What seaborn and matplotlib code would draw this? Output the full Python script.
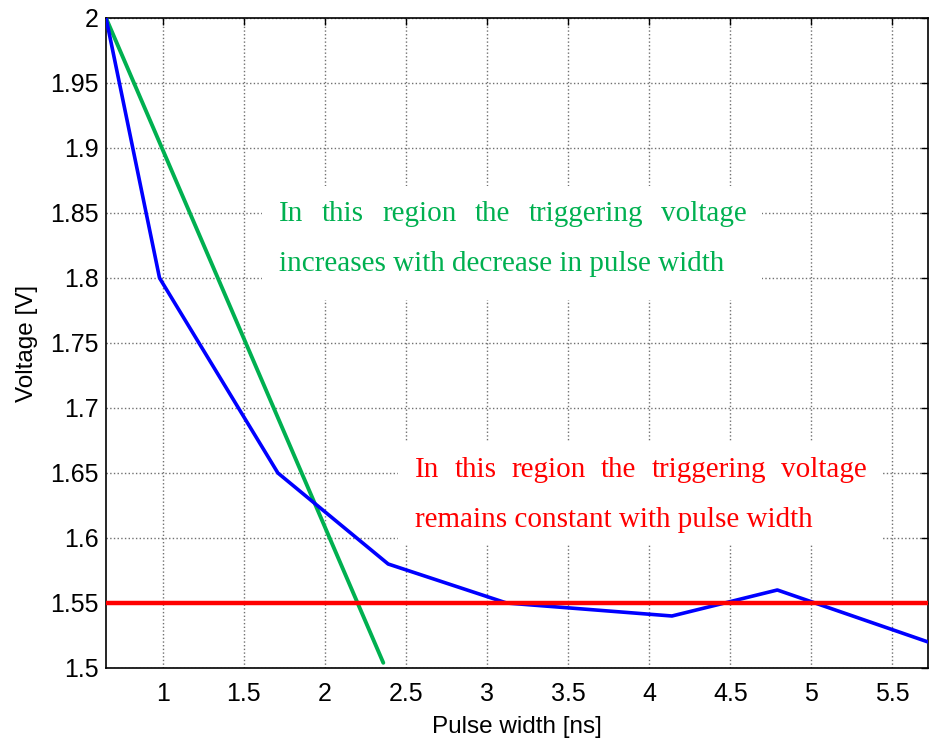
import matplotlib
matplotlib.use("Agg")
import matplotlib.pyplot as plt
import seaborn as sns
import pandas as pd
from matplotlib.patches import Rectangle

sns.set_style("white")
plt.rcParams['font.family'] = ['Liberation Sans', 'DejaVu Sans']

# data
blue_x = [0.65, 0.98, 1.71, 2.39, 3.12, 4.14, 4.79, 5.72]
blue_y = [2.00, 1.80, 1.65, 1.58, 1.55, 1.54, 1.56, 1.52]
green_x = [0.65, 2.36]
green_y = [2.00, 1.504]
red_x = [0.65, 5.72]
red_y = [1.55, 1.55]
xticks = [1, 1.5, 2, 2.5, 3, 3.5, 4, 4.5, 5, 5.5]
yticks = [1.5, 1.55, 1.6, 1.65, 1.7, 1.75, 1.8, 1.85, 1.9, 1.95, 2.0]
ytick_labels = ["1.5", "1.55", "1.6", "1.65", "1.7", "1.75", "1.8", "1.85", "1.9", "1.95", "2"]
xtick_labels = ["1", "1.5", "2", "2.5", "3", "3.5", "4", "4.5", "5", "5.5"]
green_lines = ["In this region the triggering voltage", "increases with decrease in pulse width"]
red_lines = ["In this region the triggering voltage", "remains constant with pulse width"]

GREEN = "#00B050"
fig = plt.figure(figsize=(9.3, 7.4), dpi=100)
ax = fig.add_axes([0.114, 0.0973, 0.884, 0.8784])

sns.lineplot(x=green_x, y=green_y, ax=ax, color=GREEN, linewidth=2.8, zorder=4)
sns.lineplot(x=blue_x, y=blue_y, ax=ax, color="#0000FF", linewidth=2.6, zorder=5)
sns.lineplot(x=red_x, y=red_y, ax=ax, color="#FF0000", linewidth=3.2, zorder=6)

ax.set_xlim(0.65, 5.72)
ax.set_ylim(1.5, 2.0)
ax.set_xticks(xticks)
ax.set_xticklabels(xtick_labels)
ax.set_yticks(yticks)
ax.set_yticklabels(ytick_labels)
ax.tick_params(direction='in', length=5, width=1, top=True, right=True,
               labelsize=18, colors='black', labelcolor='black')
ax.tick_params(axis='y', pad=5)
ax.tick_params(axis='x', pad=10)
ax.grid(True, linestyle=':', color='#707070', linewidth=1.0)
for s in ax.spines.values():
    s.set_color('black')
    s.set_linewidth(1.2)
ax.set_xlabel("Pulse width [ns]", fontsize=17.5, labelpad=7, color='black')
ax.set_ylabel("Voltage [V]", fontsize=17.5, labelpad=9, color='black')

# white backgrounds behind annotations (pixel coordinates -> figure)
def px_rect(x0, y0, x1, y1):
    W, H = 930, 740
    r = Rectangle((x0 / W, 1 - y1 / H), (x1 - x0) / W, (y1 - y0) / H,
                  transform=fig.transFigure, facecolor='white', edgecolor='none', zorder=2)
    ax.add_artist(r)

px_rect(262, 186, 762, 300)
px_rect(398, 441, 882, 545)

fig.canvas.draw()
renderer = fig.canvas.get_renderer()
FS = 21

def justified(words_line, x0, x1, ybase, color):
    W, H = 930, 740
    words = words_line.split()
    arts = []
    for w in words:
        t = fig.text(0, 1 - ybase / H, w, color=color, fontsize=FS,
                     family=['Liberation Serif', 'DejaVu Serif'], va='baseline', ha='left', zorder=10)
        arts.append(t)
    widths = [a.get_window_extent(renderer).width for a in arts]
    gap = ((x1 - x0) - sum(widths)) / (len(words) - 1)
    x = x0
    for a, wd in zip(arts, widths):
        a.set_x(x / W)
        x += wd + gap

def plain(line, x0, ybase, color):
    W, H = 930, 740
    fig.text(x0 / W, 1 - ybase / H, line, color=color, fontsize=FS,
             family=['Liberation Serif', 'DejaVu Serif'], va='baseline', ha='left', zorder=10)

justified(green_lines[0], 279, 747, 221, GREEN)
plain(green_lines[1], 279, 271, GREEN)
justified(red_lines[0], 415, 867, 477, "#FF0000")
plain(red_lines[1], 415, 527, "#FF0000")

fig.savefig("out.png", dpi=100)
